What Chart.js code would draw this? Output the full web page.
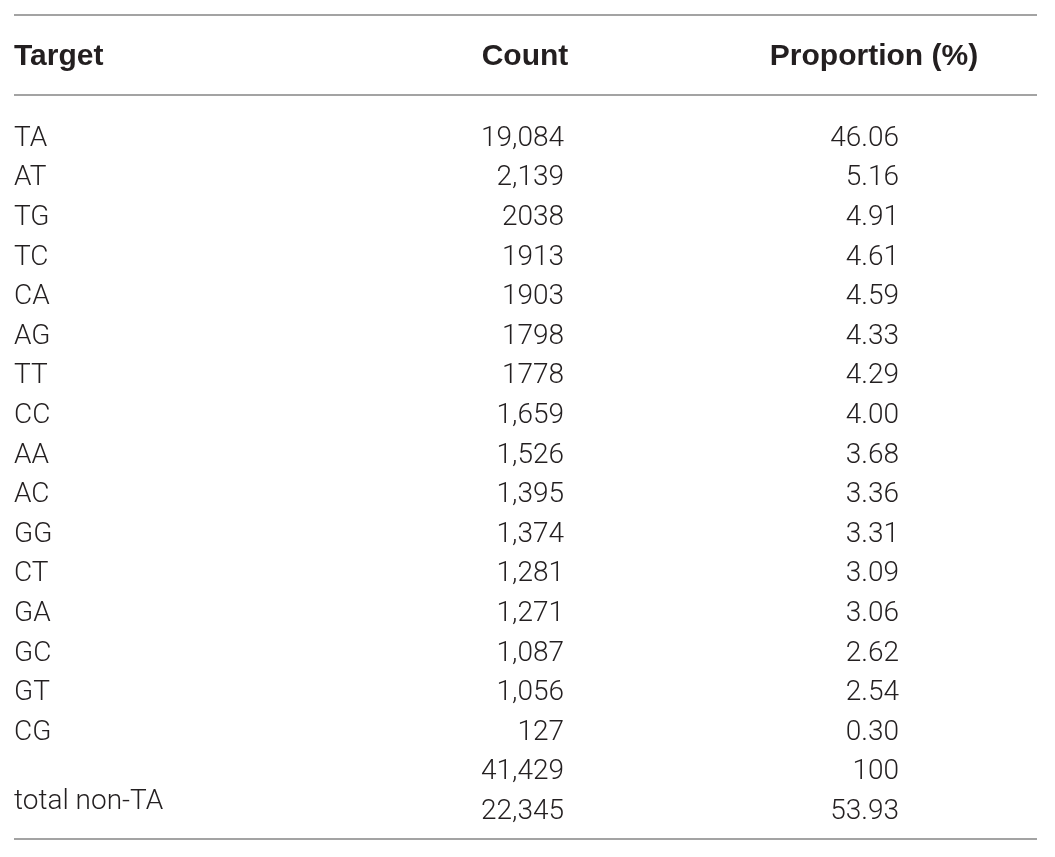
<!DOCTYPE html>
<html lang="en">
<head>
    <meta charset="UTF-8">
    <title>Target counts</title>
    <script src="https://cdn.jsdelivr.net/npm/chart.js@4.4.1/dist/chart.umd.min.js"></script>
    <style>
        html, body { margin: 0; padding: 0; background: #fff; }
        #wrap { width: 1055px; height: 857px; }
    </style>
</head>
<body>
<div id="wrap">
    <canvas id="targetTable"></canvas>
</div>
<script>
    // table contents
    var headers = ['Target', 'Count', 'Proportion (%)'];
    var targets = ['TA', 'AT', 'TG', 'TC', 'CA', 'AG', 'TT', 'CC', 'AA', 'AC', 'GG', 'CT', 'GA', 'GC', 'GT', 'CG', '', 'total non-TA'];
    var counts = ['19,084', '2,139', '2038', '1913', '1903', '1798', '1778', '1,659', '1,526', '1,395', '1,374', '1,281', '1,271', '1,087', '1,056', '127', '41,429', '22,345'];
    var proportions = ['46.06', '5.16', '4.91', '4.61', '4.59', '4.33', '4.29', '4.00', '3.68', '3.36', '3.31', '3.09', '3.06', '2.62', '2.54', '0.30', '100', '53.93'];

    // layout: rows on the y scale (row units), columns on the x scale (pixel units)
    var headerRow = -2.05;
    var ruleRows = [-3.04, -1.02, 17.77];
    var ruleLeft = 14, ruleRight = 1037;
    var colX = [14, 564, 899];          // anchor of body text per column
    var colAlign = ['left', 'right', 'right'];
    var headX = [14, 525, 874];
    var headAlign = ['left', 'center', 'center'];
    var bodySize = 28, headSize = 30;
    var bodyFont = '300 ' + bodySize + 'px Roboto, "Liberation Sans", sans-serif';
    var headFont = 'bold ' + headSize + 'px "Liberation Sans", Arial, sans-serif';
    var textColor = '#231f20';
    var lastLabelLift = 0.25;           // the "total non-TA" label sits a bit higher in its cell

    var columns = [targets, counts, proportions];

    function cellPoints(j) {
        var pts = [];
        for (var i = 0; i < columns[j].length; i++) {
            pts.push({x: colX[j], y: i});
        }
        return pts;
    }

    var tablePlugin = {
        id: 'tableText',
        afterDatasetsDraw: function(chart) {
            var c = chart.ctx;
            var xs = chart.scales.x, ys = chart.scales.y;
            var rowH = Math.abs(ys.getPixelForValue(1) - ys.getPixelForValue(0));
            c.save();

            // horizontal rules
            c.strokeStyle = '#a3a3a3';
            c.lineWidth = 2;
            ruleRows.forEach(function(r) {
                var py = Math.round(ys.getPixelForValue(r));
                c.beginPath();
                c.moveTo(xs.getPixelForValue(ruleLeft), py);
                c.lineTo(xs.getPixelForValue(ruleRight), py);
                c.stroke();
            });

            c.fillStyle = textColor;
            c.textBaseline = 'alphabetic';

            // header
            c.font = headFont;
            headers.forEach(function(h, j) {
                c.textAlign = headAlign[j];
                c.fillText(h, xs.getPixelForValue(headX[j]), ys.getPixelForValue(headerRow) + 0.37 * headSize);
            });

            // body cells from dataset point positions
            c.font = bodyFont;
            chart.data.datasets.forEach(function(ds, j) {
                var meta = chart.getDatasetMeta(j);
                c.textAlign = colAlign[j];
                meta.data.forEach(function(pt, i) {
                    var y = pt.y + 0.37 * bodySize;
                    if (j === 0 && i === columns[0].length - 1) y -= lastLabelLift * rowH;
                    c.fillText(columns[j][i], pt.x, y);
                });
            });
            c.restore();
        }
    };

    var ctx = document.getElementById('targetTable').getContext('2d');
    var config = {
        type: 'scatter',
        data: {
            datasets: [
                {label: headers[0], data: cellPoints(0), pointRadius: 0},
                {label: headers[1], data: cellPoints(1), pointRadius: 0},
                {label: headers[2], data: cellPoints(2), pointRadius: 0}
            ]
        },
        options: {
            responsive: true,
            maintainAspectRatio: false,
            animation: false,
            layout: {padding: 0},
            plugins: {
                legend: {display: false},
                tooltip: {enabled: false}
            },
            scales: {
                x: {type: 'linear', min: 0, max: 1055, display: false},
                y: {type: 'linear', min: -3.42, max: 18.22, reverse: true, display: false}
            }
        },
        plugins: [tablePlugin]
    };
    window.targetTable = new Chart(ctx, config);
</script>
</body>
</html>
